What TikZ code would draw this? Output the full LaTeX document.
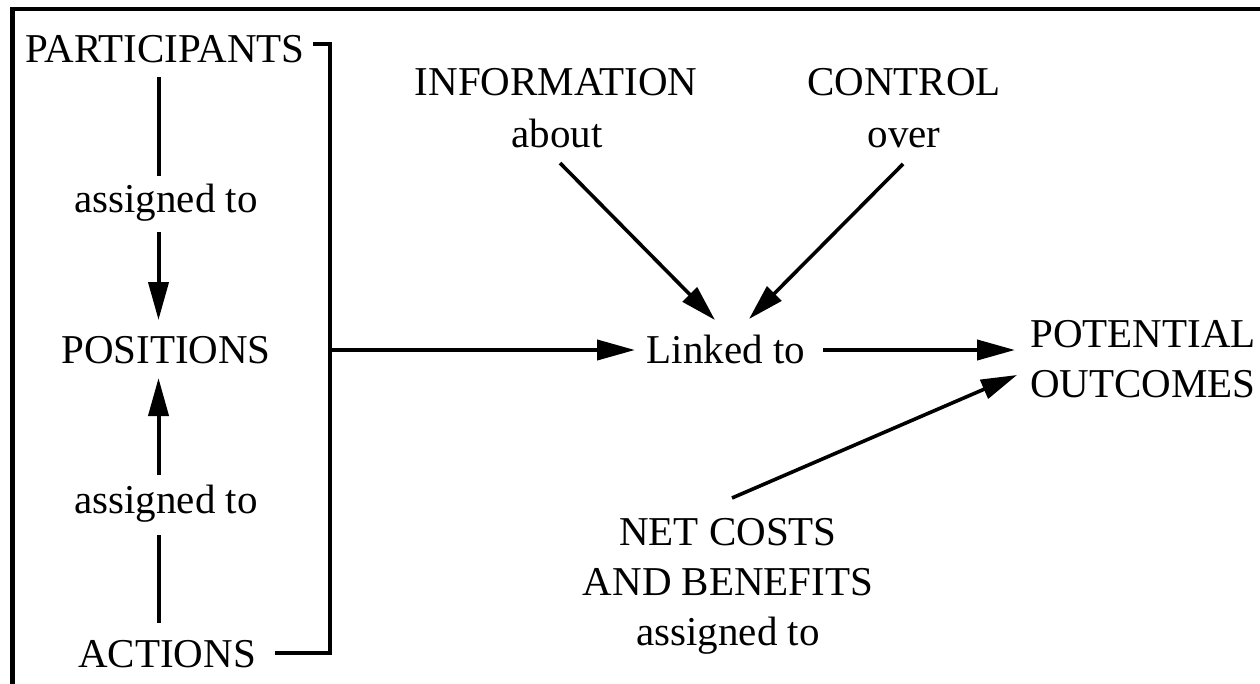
\documentclass[tikz,border=0pt]{standalone}
\usepackage{fontspec}
\setmainfont{Liberation Serif}
\usetikzlibrary{arrows.meta}
\begin{document}
\begin{tikzpicture}[x=1pt,y=-1pt,
  txt/.style={font=\fontsize{41}{50}\selectfont, inner sep=0pt, anchor=base},
  ln/.style={line width=4pt},
  arr/.style={line width=4pt, -{Triangle[length=38pt,width=20pt]}},
  darr/.style={line width=3.6pt, -{Triangle[length=36pt,width=20pt]}},
  frame/.style={line width=4.5pt}]
\useasboundingbox (0,0) rectangle (1260,683);
\fill[white] (0,0) rectangle (1260,683);
% frame (top and left edges)
\draw[frame] (12.5,700) -- (12.5,9) -- (1280,9);
% text nodes
\node[txt] (part) at (165,62) {PARTICIPANTS};
\node[txt] (asg1) at (166,212) {assigned to};
\node[txt] (pos) at (166,363) {POSITIONS};
\node[txt] (asg2) at (166,513) {assigned to};
\node[txt] (act) at (167,667) {ACTIONS};
\node[txt] (linked) at (726,363) {Linked to};
\node[txt, anchor=base west] (pot1) at (1030,347) {POTENTIAL};
\node[txt, anchor=base west] (pot2) at (1030,397) {OUTCOMES};
\node[txt] (info) at (556,95) {INFORMATION};
\node[txt] (about) at (557,147) {about};
\node[txt] (ctrl) at (904,95) {CONTROL};
\node[txt] (over) at (904,147) {over};
\node[txt] (net1) at (728,545) {NET COSTS};
\node[txt] (net2) at (728,595) {AND BENEFITS};
\node[txt] (net3) at (728,645) {assigned to};
% connector end points
\coordinate (p1) at (158.5,77);
\coordinate (p2) at (158.5,176);
\coordinate (p3) at (158.5,232);
\coordinate (p4) at (158.5,320);
\coordinate (q1) at (158.5,475);
\coordinate (q2) at (158.5,378);
\coordinate (q3) at (158.5,535);
\coordinate (q4) at (158.5,623);
\coordinate (b1) at (313,44);
\coordinate (b2) at (330,653);
\coordinate (b3) at (275,653);
\coordinate (h1) at (330,350);
\coordinate (h2) at (635,350);
\coordinate (h3) at (823,350);
\coordinate (h4) at (1015,350);
\coordinate (i1) at (560,163);
\coordinate (i2) at (715,320);
\coordinate (c1) at (903,164);
\coordinate (c2) at (749,319);
\coordinate (n1) at (732,498);
\coordinate (n2) at (1017,375);
% connectors
\draw[ln] (p1) -- (p2);
\draw[arr] (p3) -- (p4);
\draw[arr] (q1) -- (q2);
\draw[ln] (q3) -- (q4);
\draw[ln, line join=miter] (b1) -| (b2) -- (b3);
\draw[arr] (h1) -- (h2);
\draw[arr] (h3) -- (h4);
\draw[darr] (i1) -- (i2);
\draw[darr] (c1) -- (c2);
\draw[darr] (n1) -- (n2);
\end{tikzpicture}
\end{document}
